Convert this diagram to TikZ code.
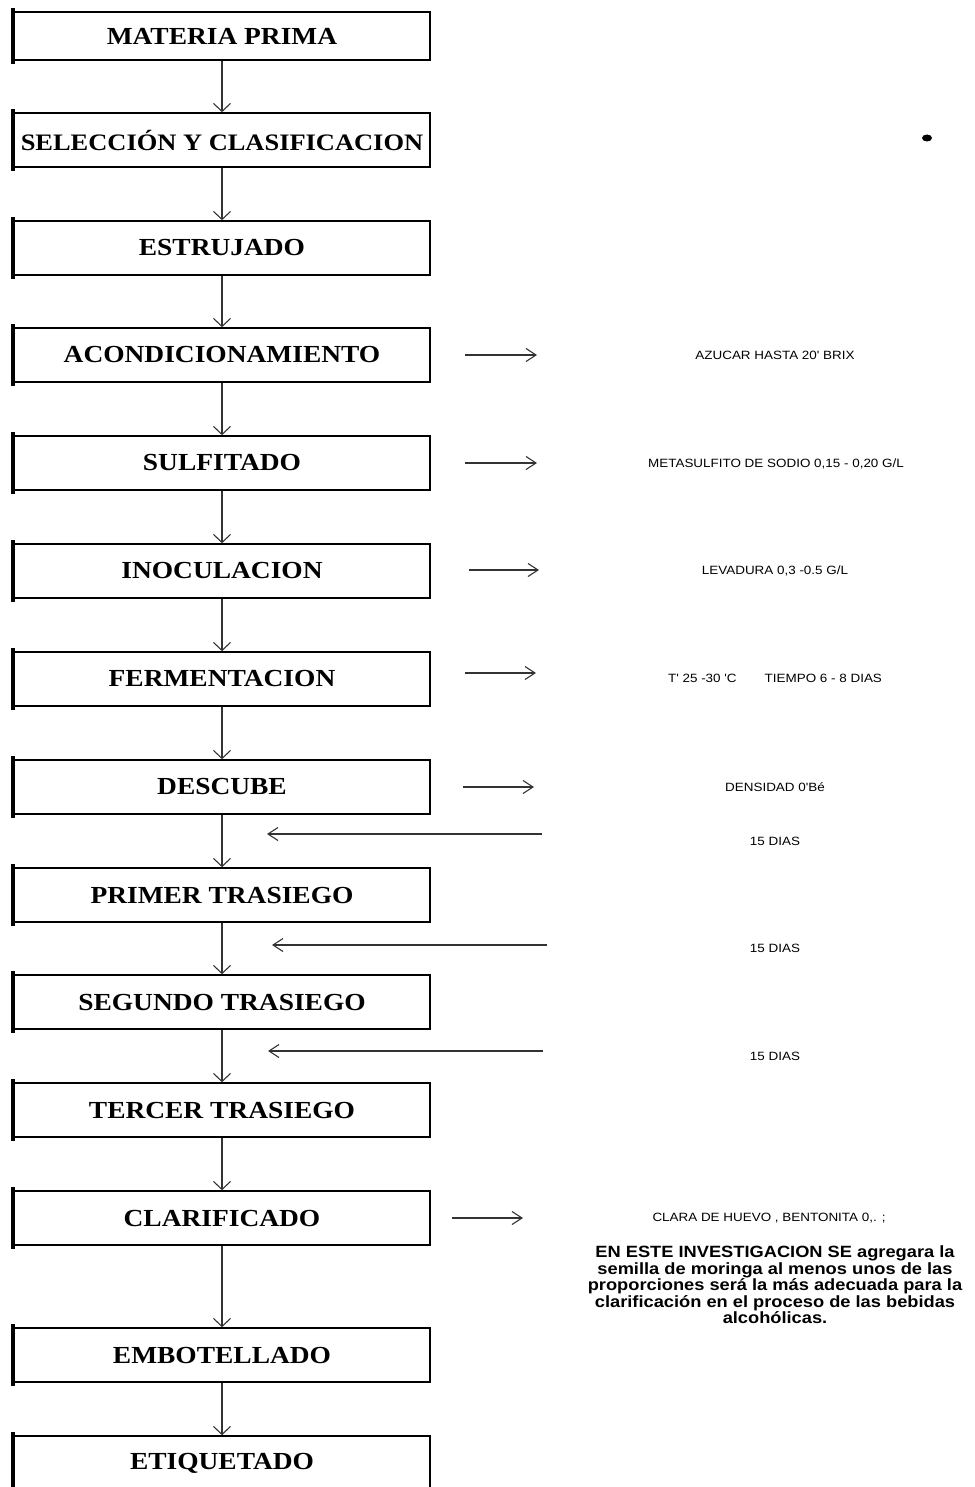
\documentclass[tikz,border=0pt]{standalone}
\usepackage{fontspec}
\newfontfamily\stagefont{Liberation Serif}[FakeStretch=1.12]
\newfontfamily\notefont{Liberation Sans}[FakeStretch=1.12]
\usetikzlibrary{
  arrows.meta,
  positioning
}

\begin{document}
\begin{tikzpicture}[
    x=1pt, y=-1pt,
    stage/.style={draw, line width=1.6pt, minimum width=416pt, minimum height=54pt,
                  inner xsep=0pt, inner ysep=2pt, font=\stagefont\bfseries\fontsize{24.5}{28}\selectfont},
    note/.style={inner sep=0pt, font=\notefont\fontsize{12}{14}\selectfont},
    flow/.style={draw=black!80, line width=1.1pt, -{Straight Barb[length=8pt,width=17pt]}},
    side/.style={draw=black!80, line width=1.1pt, -{Straight Barb[length=10pt,width=13pt]}}
  ]

  \useasboundingbox (0,0) rectangle (974,1487);

  %% --- Process stages ---
  \node[stage, minimum height=48pt] (mp) at (222,36)   {MATERIA PRIMA};
  \node[stage, font=\stagefont\bfseries\fontsize{23.6}{28}\selectfont]
       (sc) at (222,140)  {SELECCIÓN Y CLASIFICACION};
  \node[stage] (es) at (222,248)  {ESTRUJADO};
  \node[stage] (ac) at (222,355)  {ACONDICIONAMIENTO};
  \node[stage] (su) at (222,463)  {SULFITADO};
  \node[stage] (in) at (222,571)  {INOCULACION};
  \node[stage] (fe) at (222,679)  {FERMENTACION};
  \node[stage] (de) at (222,787)  {DESCUBE};
  \node[stage] (t1) at (222,895)  {PRIMER TRASIEGO};
  \node[stage] (t2) at (222,1002) {SEGUNDO TRASIEGO};
  \node[stage] (t3) at (222,1110) {TERCER TRASIEGO};
  \node[stage] (cl) at (222,1218) {CLARIFICADO};
  \node[stage] (em) at (222,1355) {EMBOTELLADO};
  \node[stage] (et) at (222,1463) {ETIQUETADO};

  %% thick left edge of every stage
  \foreach \n in {mp,sc,es,ac,su,in,fe,de,t1,t2,t3,cl,em,et}
    \draw[line width=4pt, shorten <=-3pt, shorten >=-3pt] (\n.north west) -- (\n.south west);

  %% --- Flow between stages ---
  \draw[flow] (mp.south) -- (sc.north);
  \draw[flow] (sc.south) -- (es.north);
  \draw[flow] (es.south) -- (ac.north);
  \draw[flow] (ac.south) -- (su.north);
  \draw[flow] (su.south) -- (in.north);
  \draw[flow] (in.south) -- (fe.north);
  \draw[flow] (fe.south) -- (de.north);
  \draw[flow] (de.south) -- (t1.north);
  \draw[flow] (t1.south) -- (t2.north);
  \draw[flow] (t2.south) -- (t3.north);
  \draw[flow] (t3.south) -- (cl.north);
  \draw[flow] (cl.south) -- (em.north);
  \draw[flow] (em.south) -- (et.north);

  %% --- Process conditions ---
  \node[note] (azucar) at (775,355) {AZUCAR HASTA 20' BRIX};
  \node[note] (meta)   at (776,464) {METASULFITO DE SODIO 0,15 - 0,20 G/L};
  \node[note] (lev)    at (775,571) {LEVADURA 0,3 -0.5 G/L};
  \node[note] (temp)   at (775,678) {T' 25 -30 'C\hspace{28pt}TIEMPO 6 - 8 DIAS};
  \node[note] (dens)   at (775,787) {DENSIDAD 0'Bé};
  \node[note] (dias1)  at (775,841) {15 DIAS};
  \node[note] (dias2)  at (775,948) {15 DIAS};
  \node[note] (dias3)  at (775,1056) {15 DIAS};
  \node[note] (clara)  at (769,1218) {CLARA DE HUEVO , BENTONITA 0,. ;};

  \node[inner sep=0pt, align=center,
        font=\notefont\bfseries\fontsize{16.3}{16.5}\selectfont]
    (moringa) at (775,1285)
    {EN ESTE INVESTIGACION SE agregara la\\
     semilla de moringa al menos unos de las\\
     proporciones será la más adecuada para la\\
     clarificación en el proceso de las bebidas\\
     alcohólicas.};

  %% --- Side arrows ---
  \coordinate (a1s) at (465,355);  \coordinate (a1e) at (537,355);
  \coordinate (a2s) at (465,463);  \coordinate (a2e) at (537,463);
  \coordinate (a3s) at (469,570);  \coordinate (a3e) at (539,570);
  \coordinate (a4s) at (465,673);  \coordinate (a4e) at (536,673);
  \coordinate (a5s) at (463,787);  \coordinate (a5e) at (534,787);
  \coordinate (a6s) at (452,1218); \coordinate (a6e) at (523,1218);
  \draw[side] (a1s) -- (a1e);
  \draw[side] (a2s) -- (a2e);
  \draw[side] (a3s) -- (a3e);
  \draw[side] (a4s) -- (a4e);
  \draw[side] (a5s) -- (a5e);
  \draw[side] (a6s) -- (a6e);

  \coordinate (r1s) at (542,834);  \coordinate (r1e) at (267,834);
  \coordinate (r2s) at (547,945);  \coordinate (r2e) at (272,945);
  \coordinate (r3s) at (543,1051); \coordinate (r3e) at (268,1051);
  \draw[side] (r1s) -- (r1e);
  \draw[side] (r2s) -- (r2e);
  \draw[side] (r3s) -- (r3e);

  %% stray dot
  \fill (927,138) ellipse (5pt and 3.5pt);
\end{tikzpicture}
\end{document}
